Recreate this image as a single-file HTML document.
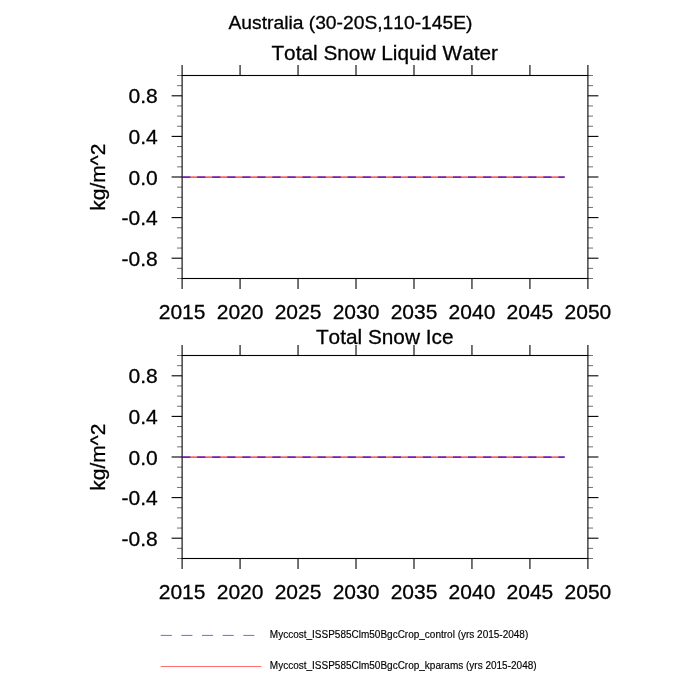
<!DOCTYPE html>
<html><head><meta charset="utf-8"><title>Australia (30-20S,110-145E)</title>
<style>
html,body{margin:0;padding:0;background:#fff;}
body{width:700px;height:700px;overflow:hidden;}
svg{display:block;}
text{font-family:"Liberation Sans",sans-serif;fill:#000;stroke:#000;stroke-width:0.3px;font-kerning:none;}
.tl{font-size:21px;}
.tt{font-size:20.8px;}
.mt{font-size:19.25px;}
.lg{font-size:10px;stroke-width:0.15px;}
</style></head><body>
<svg width="700" height="700" viewBox="0 0 700 700">
<rect width="700" height="700" fill="#fff"/>
<text x="350.5" y="28.8" class="mt" text-anchor="middle">Australia (30-20S,110-145E)</text>
<rect x="182.1" y="75.5" width="405.79999999999995" height="203.0" fill="none" stroke="#000" stroke-width="1.1"/>
<line x1="182.10" y1="75.5" x2="182.10" y2="65.0" stroke="#000" stroke-width="1.1"/>
<line x1="182.10" y1="278.5" x2="182.10" y2="289.0" stroke="#000" stroke-width="1.1"/>
<text x="182.10" y="318.80" class="tl" text-anchor="middle">2015</text>
<line x1="240.07" y1="75.5" x2="240.07" y2="65.0" stroke="#000" stroke-width="1.1"/>
<line x1="240.07" y1="278.5" x2="240.07" y2="289.0" stroke="#000" stroke-width="1.1"/>
<text x="240.07" y="318.80" class="tl" text-anchor="middle">2020</text>
<line x1="298.04" y1="75.5" x2="298.04" y2="65.0" stroke="#000" stroke-width="1.1"/>
<line x1="298.04" y1="278.5" x2="298.04" y2="289.0" stroke="#000" stroke-width="1.1"/>
<text x="298.04" y="318.80" class="tl" text-anchor="middle">2025</text>
<line x1="356.01" y1="75.5" x2="356.01" y2="65.0" stroke="#000" stroke-width="1.1"/>
<line x1="356.01" y1="278.5" x2="356.01" y2="289.0" stroke="#000" stroke-width="1.1"/>
<text x="356.01" y="318.80" class="tl" text-anchor="middle">2030</text>
<line x1="413.99" y1="75.5" x2="413.99" y2="65.0" stroke="#000" stroke-width="1.1"/>
<line x1="413.99" y1="278.5" x2="413.99" y2="289.0" stroke="#000" stroke-width="1.1"/>
<text x="413.99" y="318.80" class="tl" text-anchor="middle">2035</text>
<line x1="471.96" y1="75.5" x2="471.96" y2="65.0" stroke="#000" stroke-width="1.1"/>
<line x1="471.96" y1="278.5" x2="471.96" y2="289.0" stroke="#000" stroke-width="1.1"/>
<text x="471.96" y="318.80" class="tl" text-anchor="middle">2040</text>
<line x1="529.93" y1="75.5" x2="529.93" y2="65.0" stroke="#000" stroke-width="1.1"/>
<line x1="529.93" y1="278.5" x2="529.93" y2="289.0" stroke="#000" stroke-width="1.1"/>
<text x="529.93" y="318.80" class="tl" text-anchor="middle">2045</text>
<line x1="587.90" y1="75.5" x2="587.90" y2="65.0" stroke="#000" stroke-width="1.1"/>
<line x1="587.90" y1="278.5" x2="587.90" y2="289.0" stroke="#000" stroke-width="1.1"/>
<text x="587.90" y="318.80" class="tl" text-anchor="middle">2050</text>
<line x1="182.1" y1="75.50" x2="177.00" y2="75.50" stroke="#000" stroke-width="0.56"/>
<line x1="587.9" y1="75.50" x2="593.00" y2="75.50" stroke="#000" stroke-width="0.56"/>
<line x1="182.1" y1="85.65" x2="177.00" y2="85.65" stroke="#000" stroke-width="0.56"/>
<line x1="587.9" y1="85.65" x2="593.00" y2="85.65" stroke="#000" stroke-width="0.56"/>
<line x1="182.1" y1="95.80" x2="171.60" y2="95.80" stroke="#000" stroke-width="1.1"/>
<line x1="587.9" y1="95.80" x2="598.40" y2="95.80" stroke="#000" stroke-width="1.1"/>
<text x="157.7" y="103.30" class="tl" text-anchor="end">0.8</text>
<line x1="182.1" y1="105.95" x2="177.00" y2="105.95" stroke="#000" stroke-width="0.56"/>
<line x1="587.9" y1="105.95" x2="593.00" y2="105.95" stroke="#000" stroke-width="0.56"/>
<line x1="182.1" y1="116.10" x2="177.00" y2="116.10" stroke="#000" stroke-width="0.56"/>
<line x1="587.9" y1="116.10" x2="593.00" y2="116.10" stroke="#000" stroke-width="0.56"/>
<line x1="182.1" y1="126.25" x2="177.00" y2="126.25" stroke="#000" stroke-width="0.56"/>
<line x1="587.9" y1="126.25" x2="593.00" y2="126.25" stroke="#000" stroke-width="0.56"/>
<line x1="182.1" y1="136.40" x2="171.60" y2="136.40" stroke="#000" stroke-width="1.1"/>
<line x1="587.9" y1="136.40" x2="598.40" y2="136.40" stroke="#000" stroke-width="1.1"/>
<text x="157.7" y="143.90" class="tl" text-anchor="end">0.4</text>
<line x1="182.1" y1="146.55" x2="177.00" y2="146.55" stroke="#000" stroke-width="0.56"/>
<line x1="587.9" y1="146.55" x2="593.00" y2="146.55" stroke="#000" stroke-width="0.56"/>
<line x1="182.1" y1="156.70" x2="177.00" y2="156.70" stroke="#000" stroke-width="0.56"/>
<line x1="587.9" y1="156.70" x2="593.00" y2="156.70" stroke="#000" stroke-width="0.56"/>
<line x1="182.1" y1="166.85" x2="177.00" y2="166.85" stroke="#000" stroke-width="0.56"/>
<line x1="587.9" y1="166.85" x2="593.00" y2="166.85" stroke="#000" stroke-width="0.56"/>
<line x1="182.1" y1="177.00" x2="171.60" y2="177.00" stroke="#000" stroke-width="1.1"/>
<line x1="587.9" y1="177.00" x2="598.40" y2="177.00" stroke="#000" stroke-width="1.1"/>
<text x="157.7" y="184.50" class="tl" text-anchor="end">0.0</text>
<line x1="182.1" y1="187.15" x2="177.00" y2="187.15" stroke="#000" stroke-width="0.56"/>
<line x1="587.9" y1="187.15" x2="593.00" y2="187.15" stroke="#000" stroke-width="0.56"/>
<line x1="182.1" y1="197.30" x2="177.00" y2="197.30" stroke="#000" stroke-width="0.56"/>
<line x1="587.9" y1="197.30" x2="593.00" y2="197.30" stroke="#000" stroke-width="0.56"/>
<line x1="182.1" y1="207.45" x2="177.00" y2="207.45" stroke="#000" stroke-width="0.56"/>
<line x1="587.9" y1="207.45" x2="593.00" y2="207.45" stroke="#000" stroke-width="0.56"/>
<line x1="182.1" y1="217.60" x2="171.60" y2="217.60" stroke="#000" stroke-width="1.1"/>
<line x1="587.9" y1="217.60" x2="598.40" y2="217.60" stroke="#000" stroke-width="1.1"/>
<text x="157.7" y="225.10" class="tl" text-anchor="end">-0.4</text>
<line x1="182.1" y1="227.75" x2="177.00" y2="227.75" stroke="#000" stroke-width="0.56"/>
<line x1="587.9" y1="227.75" x2="593.00" y2="227.75" stroke="#000" stroke-width="0.56"/>
<line x1="182.1" y1="237.90" x2="177.00" y2="237.90" stroke="#000" stroke-width="0.56"/>
<line x1="587.9" y1="237.90" x2="593.00" y2="237.90" stroke="#000" stroke-width="0.56"/>
<line x1="182.1" y1="248.05" x2="177.00" y2="248.05" stroke="#000" stroke-width="0.56"/>
<line x1="587.9" y1="248.05" x2="593.00" y2="248.05" stroke="#000" stroke-width="0.56"/>
<line x1="182.1" y1="258.20" x2="171.60" y2="258.20" stroke="#000" stroke-width="1.1"/>
<line x1="587.9" y1="258.20" x2="598.40" y2="258.20" stroke="#000" stroke-width="1.1"/>
<text x="157.7" y="265.70" class="tl" text-anchor="end">-0.8</text>
<line x1="182.1" y1="268.35" x2="177.00" y2="268.35" stroke="#000" stroke-width="0.56"/>
<line x1="587.9" y1="268.35" x2="593.00" y2="268.35" stroke="#000" stroke-width="0.56"/>
<line x1="182.1" y1="278.50" x2="177.00" y2="278.50" stroke="#000" stroke-width="0.56"/>
<line x1="587.9" y1="278.50" x2="593.00" y2="278.50" stroke="#000" stroke-width="0.56"/>
<rect x="182.1" y="176" width="382.61" height="1" fill="#f00" fill-opacity="0.44"/>
<rect x="182.1" y="177" width="382.61" height="1" fill="#f00" fill-opacity="0.62"/>
<line x1="182.1" y1="176.5" x2="564.71" y2="176.5" stroke="#00f" stroke-width="1" stroke-opacity="0.44" stroke-dasharray="8.2 6.85"/>
<line x1="182.1" y1="177.5" x2="564.71" y2="177.5" stroke="#00f" stroke-width="1" stroke-opacity="0.62" stroke-dasharray="8.2 6.85"/>
<text transform="translate(105 177.15) rotate(-90)" class="tl" text-anchor="middle">kg/m^2</text>
<text x="384.7" y="59.7" class="tt" text-anchor="middle">Total Snow Liquid Water</text>
<rect x="182.1" y="355.5" width="405.79999999999995" height="203.0" fill="none" stroke="#000" stroke-width="1.1"/>
<line x1="182.10" y1="355.5" x2="182.10" y2="345.0" stroke="#000" stroke-width="1.1"/>
<line x1="182.10" y1="558.5" x2="182.10" y2="569.0" stroke="#000" stroke-width="1.1"/>
<text x="182.10" y="598.80" class="tl" text-anchor="middle">2015</text>
<line x1="240.07" y1="355.5" x2="240.07" y2="345.0" stroke="#000" stroke-width="1.1"/>
<line x1="240.07" y1="558.5" x2="240.07" y2="569.0" stroke="#000" stroke-width="1.1"/>
<text x="240.07" y="598.80" class="tl" text-anchor="middle">2020</text>
<line x1="298.04" y1="355.5" x2="298.04" y2="345.0" stroke="#000" stroke-width="1.1"/>
<line x1="298.04" y1="558.5" x2="298.04" y2="569.0" stroke="#000" stroke-width="1.1"/>
<text x="298.04" y="598.80" class="tl" text-anchor="middle">2025</text>
<line x1="356.01" y1="355.5" x2="356.01" y2="345.0" stroke="#000" stroke-width="1.1"/>
<line x1="356.01" y1="558.5" x2="356.01" y2="569.0" stroke="#000" stroke-width="1.1"/>
<text x="356.01" y="598.80" class="tl" text-anchor="middle">2030</text>
<line x1="413.99" y1="355.5" x2="413.99" y2="345.0" stroke="#000" stroke-width="1.1"/>
<line x1="413.99" y1="558.5" x2="413.99" y2="569.0" stroke="#000" stroke-width="1.1"/>
<text x="413.99" y="598.80" class="tl" text-anchor="middle">2035</text>
<line x1="471.96" y1="355.5" x2="471.96" y2="345.0" stroke="#000" stroke-width="1.1"/>
<line x1="471.96" y1="558.5" x2="471.96" y2="569.0" stroke="#000" stroke-width="1.1"/>
<text x="471.96" y="598.80" class="tl" text-anchor="middle">2040</text>
<line x1="529.93" y1="355.5" x2="529.93" y2="345.0" stroke="#000" stroke-width="1.1"/>
<line x1="529.93" y1="558.5" x2="529.93" y2="569.0" stroke="#000" stroke-width="1.1"/>
<text x="529.93" y="598.80" class="tl" text-anchor="middle">2045</text>
<line x1="587.90" y1="355.5" x2="587.90" y2="345.0" stroke="#000" stroke-width="1.1"/>
<line x1="587.90" y1="558.5" x2="587.90" y2="569.0" stroke="#000" stroke-width="1.1"/>
<text x="587.90" y="598.80" class="tl" text-anchor="middle">2050</text>
<line x1="182.1" y1="355.50" x2="177.00" y2="355.50" stroke="#000" stroke-width="0.56"/>
<line x1="587.9" y1="355.50" x2="593.00" y2="355.50" stroke="#000" stroke-width="0.56"/>
<line x1="182.1" y1="365.65" x2="177.00" y2="365.65" stroke="#000" stroke-width="0.56"/>
<line x1="587.9" y1="365.65" x2="593.00" y2="365.65" stroke="#000" stroke-width="0.56"/>
<line x1="182.1" y1="375.80" x2="171.60" y2="375.80" stroke="#000" stroke-width="1.1"/>
<line x1="587.9" y1="375.80" x2="598.40" y2="375.80" stroke="#000" stroke-width="1.1"/>
<text x="157.7" y="383.30" class="tl" text-anchor="end">0.8</text>
<line x1="182.1" y1="385.95" x2="177.00" y2="385.95" stroke="#000" stroke-width="0.56"/>
<line x1="587.9" y1="385.95" x2="593.00" y2="385.95" stroke="#000" stroke-width="0.56"/>
<line x1="182.1" y1="396.10" x2="177.00" y2="396.10" stroke="#000" stroke-width="0.56"/>
<line x1="587.9" y1="396.10" x2="593.00" y2="396.10" stroke="#000" stroke-width="0.56"/>
<line x1="182.1" y1="406.25" x2="177.00" y2="406.25" stroke="#000" stroke-width="0.56"/>
<line x1="587.9" y1="406.25" x2="593.00" y2="406.25" stroke="#000" stroke-width="0.56"/>
<line x1="182.1" y1="416.40" x2="171.60" y2="416.40" stroke="#000" stroke-width="1.1"/>
<line x1="587.9" y1="416.40" x2="598.40" y2="416.40" stroke="#000" stroke-width="1.1"/>
<text x="157.7" y="423.90" class="tl" text-anchor="end">0.4</text>
<line x1="182.1" y1="426.55" x2="177.00" y2="426.55" stroke="#000" stroke-width="0.56"/>
<line x1="587.9" y1="426.55" x2="593.00" y2="426.55" stroke="#000" stroke-width="0.56"/>
<line x1="182.1" y1="436.70" x2="177.00" y2="436.70" stroke="#000" stroke-width="0.56"/>
<line x1="587.9" y1="436.70" x2="593.00" y2="436.70" stroke="#000" stroke-width="0.56"/>
<line x1="182.1" y1="446.85" x2="177.00" y2="446.85" stroke="#000" stroke-width="0.56"/>
<line x1="587.9" y1="446.85" x2="593.00" y2="446.85" stroke="#000" stroke-width="0.56"/>
<line x1="182.1" y1="457.00" x2="171.60" y2="457.00" stroke="#000" stroke-width="1.1"/>
<line x1="587.9" y1="457.00" x2="598.40" y2="457.00" stroke="#000" stroke-width="1.1"/>
<text x="157.7" y="464.50" class="tl" text-anchor="end">0.0</text>
<line x1="182.1" y1="467.15" x2="177.00" y2="467.15" stroke="#000" stroke-width="0.56"/>
<line x1="587.9" y1="467.15" x2="593.00" y2="467.15" stroke="#000" stroke-width="0.56"/>
<line x1="182.1" y1="477.30" x2="177.00" y2="477.30" stroke="#000" stroke-width="0.56"/>
<line x1="587.9" y1="477.30" x2="593.00" y2="477.30" stroke="#000" stroke-width="0.56"/>
<line x1="182.1" y1="487.45" x2="177.00" y2="487.45" stroke="#000" stroke-width="0.56"/>
<line x1="587.9" y1="487.45" x2="593.00" y2="487.45" stroke="#000" stroke-width="0.56"/>
<line x1="182.1" y1="497.60" x2="171.60" y2="497.60" stroke="#000" stroke-width="1.1"/>
<line x1="587.9" y1="497.60" x2="598.40" y2="497.60" stroke="#000" stroke-width="1.1"/>
<text x="157.7" y="505.10" class="tl" text-anchor="end">-0.4</text>
<line x1="182.1" y1="507.75" x2="177.00" y2="507.75" stroke="#000" stroke-width="0.56"/>
<line x1="587.9" y1="507.75" x2="593.00" y2="507.75" stroke="#000" stroke-width="0.56"/>
<line x1="182.1" y1="517.90" x2="177.00" y2="517.90" stroke="#000" stroke-width="0.56"/>
<line x1="587.9" y1="517.90" x2="593.00" y2="517.90" stroke="#000" stroke-width="0.56"/>
<line x1="182.1" y1="528.05" x2="177.00" y2="528.05" stroke="#000" stroke-width="0.56"/>
<line x1="587.9" y1="528.05" x2="593.00" y2="528.05" stroke="#000" stroke-width="0.56"/>
<line x1="182.1" y1="538.20" x2="171.60" y2="538.20" stroke="#000" stroke-width="1.1"/>
<line x1="587.9" y1="538.20" x2="598.40" y2="538.20" stroke="#000" stroke-width="1.1"/>
<text x="157.7" y="545.70" class="tl" text-anchor="end">-0.8</text>
<line x1="182.1" y1="548.35" x2="177.00" y2="548.35" stroke="#000" stroke-width="0.56"/>
<line x1="587.9" y1="548.35" x2="593.00" y2="548.35" stroke="#000" stroke-width="0.56"/>
<line x1="182.1" y1="558.50" x2="177.00" y2="558.50" stroke="#000" stroke-width="0.56"/>
<line x1="587.9" y1="558.50" x2="593.00" y2="558.50" stroke="#000" stroke-width="0.56"/>
<rect x="182.1" y="456" width="382.61" height="1" fill="#f00" fill-opacity="0.44"/>
<rect x="182.1" y="457" width="382.61" height="1" fill="#f00" fill-opacity="0.62"/>
<line x1="182.1" y1="456.5" x2="564.71" y2="456.5" stroke="#00f" stroke-width="1" stroke-opacity="0.44" stroke-dasharray="8.2 6.85"/>
<line x1="182.1" y1="457.5" x2="564.71" y2="457.5" stroke="#00f" stroke-width="1" stroke-opacity="0.62" stroke-dasharray="8.2 6.85"/>
<text transform="translate(105 457.15) rotate(-90)" class="tl" text-anchor="middle">kg/m^2</text>
<text x="384.7" y="344" class="tt" text-anchor="middle">Total Snow Ice</text>
<line x1="160.7" y1="635.4" x2="261.4" y2="635.4" stroke="#00f" stroke-width="0.6" stroke-dasharray="11.1 9.55"/>
<line x1="160.7" y1="666.5" x2="261.4" y2="666.5" stroke="#f00" stroke-width="0.57"/>
<text x="269.8" y="637.8" class="lg">Myccost_ISSP585Clm50BgcCrop_control (yrs 2015-2048)</text>
<text x="269.8" y="668.8" class="lg">Myccost_ISSP585Clm50BgcCrop_kparams (yrs 2015-2048)</text>
</svg>
</body></html>
